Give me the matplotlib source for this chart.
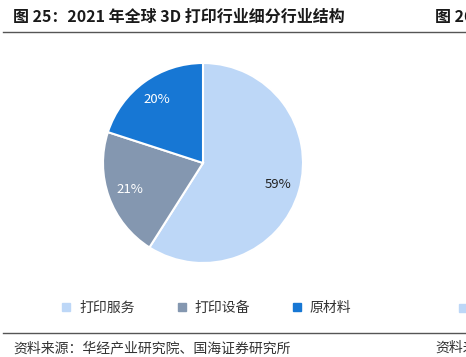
import matplotlib.pyplot as plt
from matplotlib.lines import Line2D

plt.rcParams['font.family'] = ['Noto Sans CJK SC', 'DejaVu Sans']

# Données
categories = ["打印服务", "打印设备", "原材料"]
valeurs = [59, 21, 20]
couleurs = ["#BDD7F7", "#8497B0", "#1777D4"]
couleurs_texte = ["#222222", "white", "white"]

W, H = 466, 357
fig = plt.figure(figsize=(W / 100, H / 100), dpi=100)

# Titre et lignes
fig.text(13 / W, 1 - 17 / H, "图 25：2021 年全球 3D 打印行业细分行业结构",
         fontsize=11.5, fontweight="bold", color="#1a1a1a", va="center", ha="left")
fig.text(435 / W, 1 - 17 / H, "图 26", fontsize=11.5, fontweight="bold",
         color="#1a1a1a", va="center", ha="left")
fig.add_artist(Line2D([3 / W, 1], [1 - 32 / H, 1 - 32 / H], color="#555555", lw=1))
fig.add_artist(Line2D([3 / W, 1], [1 - 333 / H, 1 - 333 / H], color="#555555", lw=1))
fig.text(13 / W, 1 - 348 / H, "资料来源：华经产业研究院、国海证券研究所",
         fontsize=10, color="#333333", va="center", ha="left")
fig.text(435 / W, 1 - 348 / H, "资料来源", fontsize=10, color="#333333",
         va="center", ha="left")

# Camembert
ax = fig.add_axes([103 / W, 94 / H, 200 / W, 200 / H])
wedges, textes, pcts = ax.pie(valeurs, colors=couleurs, startangle=90, counterclock=False,
                              autopct=lambda p: f"{round(p)}%", pctdistance=0.78,
                              wedgeprops=dict(edgecolor="white", linewidth=1.5),
                              textprops=dict(fontsize=9.5))
for t, c in zip(pcts, couleurs_texte):
    t.set_color(c)
ax.set_xlim(-1, 1)
ax.set_ylim(-1, 1)
ax.set_aspect("equal")

# Légende
poignees = [Line2D([], [], marker="s", ls="", markersize=6, color=c) for c in couleurs]
fig.legend(poignees, categories, loc="center", bbox_to_anchor=(206 / W, 1 - 308 / H),
           ncol=3, frameon=False, fontsize=10, handlelength=0.8, handletextpad=0.5,
           columnspacing=3.0, labelcolor="#333333")
fig.add_artist(Line2D([463 / W], [1 - 308 / H], marker="s", markersize=6, color=couleurs[0]))

fig.savefig("out.png", dpi=100)
